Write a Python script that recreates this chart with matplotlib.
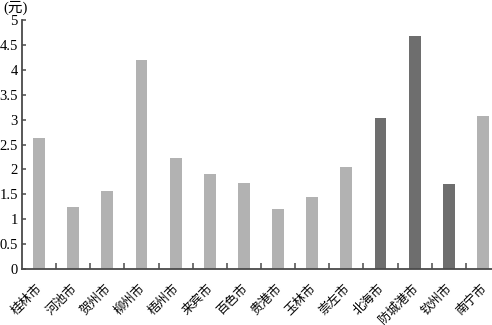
import matplotlib
matplotlib.use("Agg")
import matplotlib.pyplot as plt
from matplotlib.transforms import ScaledTranslation
import numpy as np

cities = ["桂林市", "河池市", "贺州市", "柳州市", "梧州市", "来宾市", "百色市",
          "贵港市", "玉林市", "崇左市", "北海市", "防城港市", "钦州市", "南宁市"]
values = [2.63, 1.25, 1.57, 4.19, 2.23, 1.91, 1.73, 1.21, 1.45, 2.05, 3.04, 4.68, 1.71, 3.08]
coastal = [False, False, False, False, False, False, False,
           False, False, False, True, True, True, False]
yticks = [0, 0.5, 1, 1.5, 2, 2.5, 3, 3.5, 4, 4.5, 5]
ytick_labels = ["0", "0.5", "1", "1.5", "2", "2.5", "3", "3.5", "4", "4.5", "5"]

light = "#b2b2b2"
dark = "#6e6e6e"
axis_c = "#4a4a4a"

W, H = 492, 325
fig = plt.figure(figsize=(W / 100, H / 100), dpi=100)
ax = fig.add_axes([22 / W, 56 / H, 478 / W, 249 / H])

x = np.arange(len(cities))
colors = [dark if c else light for c in coastal]
ax.bar(x, values, width=0.35, color=colors, edgecolor="none")

ax.set_xlim(-0.5, len(cities) - 0.5)
ax.set_ylim(0, 5)

for s in ["top", "right"]:
    ax.spines[s].set_visible(False)
for s in ["left", "bottom"]:
    ax.spines[s].set_color(axis_c)
    ax.spines[s].set_linewidth(1.3)

ax.set_yticks(yticks)
ax.set_yticklabels(ytick_labels, fontfamily="Liberation Serif", fontsize=10.5)
ax.tick_params(axis="y", direction="in", length=3, width=1.1, color=axis_c, pad=3)

ax.set_xticks(x)
ax.set_xticklabels(cities, rotation=45, ha="right", va="top",
                   fontfamily="Noto Sans CJK SC", fontsize=9)
ax.tick_params(axis="x", which="major", length=0, pad=9)
shift = ScaledTranslation(6 / 100, 0, fig.dpi_scale_trans)
for lab in ax.get_xticklabels():
    lab.set_transform(lab.get_transform() + shift)
ax.set_xticks(np.arange(0.5, len(cities) - 1, 1.0), minor=True)
ax.tick_params(axis="x", which="minor", direction="in", length=4, width=1.1, color=axis_c)

fig.text(3 / W, 1 - 8 / H, "(元)", family=["Liberation Serif", "Noto Sans CJK SC"],
         fontsize=10.5, ha="left", va="center")

fig.savefig("out.png", dpi=100)
